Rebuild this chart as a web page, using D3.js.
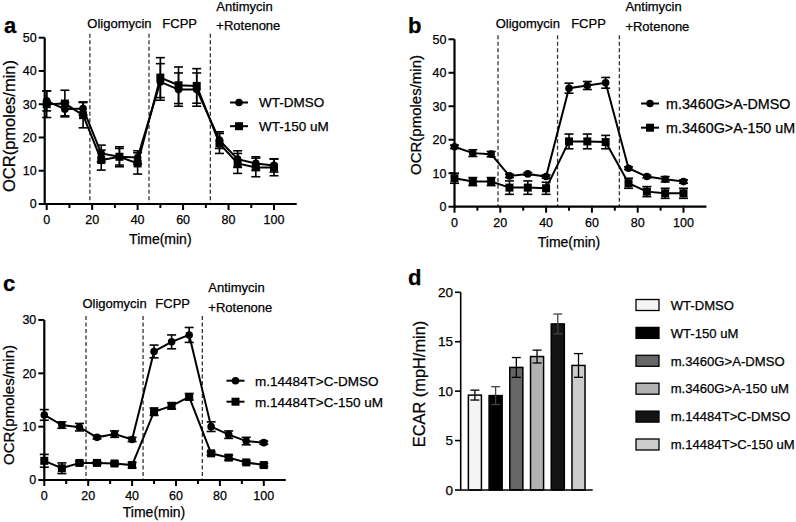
<!DOCTYPE html>
<html><head><meta charset="utf-8">
<script src="https://cdn.jsdelivr.net/npm/d3@7"></script>
<style>
body{margin:0;background:#fff}
svg{display:block}
text{font-family:"Liberation Sans",Arial,Helvetica,sans-serif;fill:#000;stroke:#000;stroke-width:0.25px}
</style>
</head><body>
<svg id="chart" width="796" height="522"></svg>
<script>
// ---------- DATA ----------
const times = [0, 8, 16, 24, 32, 40, 50, 58, 66, 76, 84, 92, 100];
const injectionTimes = [19, 45, 72];
const xTicks = [0, 20, 40, 60, 80, 100];
const xMinorTicks = [10, 30, 50, 70, 90];

const wtDmso     = [31, 28.5, 28.7, 15.2, 14.2, 14.0, 36.7, 34.4, 34.4, 19.2, 13.5, 12.2, 11.6];
const wtDmsoErr  = [3, 2, 2, 2.5, 2.5, 2, 5.5, 5, 5, 2.5, 2.5, 2, 2];
const wt150      = [30, 30.2, 26.7, 13.2, 14.2, 12.2, 38, 35.7, 35.5, 18.2, 12.2, 11, 11];
const wt150Err   = [4, 4, 3.8, 3, 3, 3.2, 6, 5.5, 5.2, 3, 3, 2.8, 2.5];

const m3460Dmso    = [17.9, 16, 15.7, 9.2, 9.8, 9.0, 35.4, 36.2, 37, 11.5, 9.0, 8.2, 7.5];
const m3460DmsoErr = [0.5, 1, 0.8, 0.5, 0.4, 0.5, 1.5, 1.2, 1.6, 0.4, 0.4, 0.8, 0.5];
const m3460_150    = [8.5, 7.5, 7.5, 5.7, 5.7, 5.5, 19.5, 19.5, 19.3, 7.0, 4.5, 4.0, 4.0];
const m3460_150Err = [1.5, 1.2, 1.2, 2, 2, 1.8, 2.2, 2.2, 2, 1.5, 1.5, 1.5, 1.5];

const m14484Dmso    = [12.2, 10.3, 9.9, 8.0, 8.6, 7.6, 24.1, 25.9, 27.2, 10.0, 8.5, 7.3, 7.0];
const m14484DmsoErr = [1, 0.6, 0.7, 0.3, 0.6, 0.4, 1.2, 1.3, 1.4, 0.9, 0.7, 0.7, 0.3];
const m14484_150    = [3.6, 2.2, 3.2, 3.2, 3.1, 2.8, 12.8, 13.9, 15.6, 5.0, 4.2, 3.3, 2.8];
const m14484_150Err = [1.2, 1, 0.3, 0.3, 0.3, 0.5, 0.7, 0.6, 0.6, 0.3, 0.5, 0.3, 0.3];

const ecarGroups = ["WT-DMSO", "WT-150 uM", "m.3460G>A-DMSO", "m.3460G>A-150 uM", "m.14484T>C-DMSO", "m.14484T>C-150 uM"];
const ecarValues = [9.6, 9.55, 12.4, 13.5, 16.8, 12.6];
const ecarErr    = [0.5, 0.9, 1.0, 0.65, 1.0, 1.2];
const ecarColors = ["#f4f4f4", "#000000", "#666666", "#b2b2b2", "#141414", "#cdcdcd"];
const ecarTicks  = [0, 5, 10, 15, 20];

// ---------- DRAW ----------
const svg = d3.select("#chart");

function ocrPanel(o) {
  const g = svg.append("g");
  const x = d3.scaleLinear().domain([0, 110]).range(o.xr);
  const y = d3.scaleLinear().domain([0, o.yMax]).range(o.yr);
  const yTop = o.yr[1], yBot = o.yr[0];
  const ax0 = x(0) - o.yAxisOff;

  // injection dashed lines
  injectionTimes.forEach(t => {
    g.append("line").attr("x1", x(t)).attr("x2", x(t))
      .attr("y1", yTop - 4).attr("y2", yBot)
      .attr("stroke", "#333").attr("stroke-width", 1.3).attr("stroke-dasharray", "4,2.5");
  });
  const lx = injectionTimes.map(x);
  g.append("text").attr("x", (lx[0] + lx[1]) / 2).attr("y", yTop + o.oligoDy)
    .attr("text-anchor", "middle").attr("font-size", 13).text("Oligomycin");
  g.append("text").attr("x", (lx[1] + lx[2]) / 2).attr("y", yTop + o.oligoDy)
    .attr("text-anchor", "middle").attr("font-size", 13).text("FCPP");
  g.append("text").attr("x", lx[2] + 6).attr("y", Math.max(yTop - 28.5, 11))
    .attr("font-size", 13).text("Antimycin");
  g.append("text").attr("x", lx[2] + 6).attr("y", yTop - 8)
    .attr("font-size", 13).text("+Rotenone");

  // axes
  const xAxis = g.append("g").attr("transform", `translate(0,${yBot})`);
  xAxis.append("line").attr("x1", ax0 - 1).attr("x2", x(110)).attr("y1", 0).attr("y2", 0)
    .attr("stroke", "#000").attr("stroke-width", 2.2);
  xTicks.forEach(t => {
    xAxis.append("line").attr("x1", x(t)).attr("x2", x(t)).attr("y1", -1).attr("y2", 6)
      .attr("stroke", "#000").attr("stroke-width", 2);
    xAxis.append("text").attr("x", x(t)).attr("y", 20).attr("text-anchor", "middle")
      .attr("font-size", 12.5).text(t);
  });
  xMinorTicks.forEach(t => {
    xAxis.append("line").attr("x1", x(t)).attr("x2", x(t)).attr("y1", 0).attr("y2", 4)
      .attr("stroke", "#000").attr("stroke-width", 2);
  });
  g.append("text").attr("x", x(50)).attr("y", yBot + o.timeDy).attr("text-anchor", "middle")
    .attr("font-size", 14).text("Time(min)");

  const yAxis = g.append("g");
  yAxis.append("line").attr("x1", ax0).attr("x2", ax0).attr("y1", yTop).attr("y2", yBot + 1)
    .attr("stroke", "#000").attr("stroke-width", 2.2);
  d3.range(0, o.yMax + 0.001, o.yStep).forEach(v => {
    yAxis.append("line").attr("x1", ax0 - 6).attr("x2", ax0).attr("y1", y(v)).attr("y2", y(v))
      .attr("stroke", "#000").attr("stroke-width", 2);
    yAxis.append("text").attr("x", ax0 - 8).attr("y", y(v)).attr("dy", "0.35em")
      .attr("text-anchor", "end").attr("font-size", 12.5).text(v);
  });
  g.append("text").attr("transform", `translate(${o.yLabelX},${o.yLabelY}) rotate(-90)`)
    .attr("text-anchor", "middle").attr("font-size", o.yLabelSize).text("OCR(pmoles/min)");

  // letter
  g.append("text").attr("x", o.letter[0]).attr("y", o.letter[1]).attr("font-size", 22)
    .attr("font-weight", "bold").text(o.letterText);

  // series
  o.series.forEach(s => {
    const pts = times.map((t, i) => ({ t, v: s.vals[i], e: s.err[i] }));
    const eb = g.append("g").attr("stroke", "#000").attr("stroke-width", 1.6);
    pts.forEach(p => {
      eb.append("line").attr("x1", x(p.t)).attr("x2", x(p.t)).attr("y1", y(p.v - p.e)).attr("y2", y(p.v + p.e));
      [p.v - p.e, p.v + p.e].forEach(v => {
        eb.append("line").attr("x1", x(p.t) - 4.5).attr("x2", x(p.t) + 4.5).attr("y1", y(v)).attr("y2", y(v));
      });
    });
    g.append("path").datum(pts)
      .attr("d", d3.line().x(p => x(p.t)).y(p => y(p.v)))
      .attr("fill", "none").attr("stroke", "#000").attr("stroke-width", 2);
    pts.forEach(p => drawMarker(g, s.shape, x(p.t), y(p.v)));
  });

  // legend
  o.series.forEach((s, i) => {
    const ly = o.legend[1] + i * o.legendGap;
    g.append("line").attr("x1", o.legend[0]).attr("x2", o.legend[0] + 18)
      .attr("y1", ly).attr("y2", ly).attr("stroke", "#000").attr("stroke-width", 2);
    drawMarker(g, s.shape, o.legend[0] + 9, ly);
    g.append("text").attr("x", o.legend[0] + o.legendTextDx).attr("y", ly).attr("dy", "0.36em")
      .attr("font-size", o.legendSize).text(s.name);
  });
}

function drawMarker(g, shape, cx, cy) {
  if (shape === "circle") {
    g.append("circle").attr("cx", cx).attr("cy", cy).attr("r", 3.8).attr("fill", "#000");
  } else {
    g.append("rect").attr("x", cx - 4).attr("y", cy - 4).attr("width", 8).attr("height", 8).attr("fill", "#000");
  }
}

ocrPanel({
  xr: [46.7, 46.7 + 2.273 * 110], yr: [204, 37.7], yMax: 50, yStep: 10, yAxisOff: 2,
  oligoDy: -10, timeDy: 40, yLabelX: 14.5, yLabelY: 126, yLabelSize: 16.5, letter: [4, 33], letterText: "a",
  legend: [230, 102.5], legendGap: 23.7, legendTextDx: 29, legendSize: 13.5,
  series: [
    { name: "WT-DMSO", vals: wtDmso, err: wtDmsoErr, shape: "circle" },
    { name: "WT-150 uM", vals: wt150, err: wt150Err, shape: "square" }
  ]
});
ocrPanel({
  xr: [454.5, 454.5 + 2.29 * 110], yr: [206.7, 39.3], yMax: 50, yStep: 10, yAxisOff: 0,
  oligoDy: -11, timeDy: 40, yLabelX: 421, yLabelY: 115, yLabelSize: 15, letter: [408, 33], letterText: "b",
  legend: [641, 103.5], legendGap: 24.2, legendTextDx: 25, legendSize: 14.3,
  series: [
    { name: "m.3460G>A-DMSO", vals: m3460Dmso, err: m3460DmsoErr, shape: "circle" },
    { name: "m.3460G>A-150 uM", vals: m3460_150, err: m3460_150Err, shape: "square" }
  ]
});
ocrPanel({
  xr: [44.3, 44.3 + 2.195 * 110], yr: [480, 320], yMax: 30, yStep: 10, yAxisOff: 0,
  oligoDy: -12, timeDy: 37, yLabelX: 14, yLabelY: 405, yLabelSize: 15, letter: [3, 291], letterText: "c",
  legend: [226.5, 380.7], legendGap: 21, legendTextDx: 28.5, legendSize: 13.5,
  series: [
    { name: "m.14484T>C-DMSO", vals: m14484Dmso, err: m14484DmsoErr, shape: "circle" },
    { name: "m.14484T>C-150 uM", vals: m14484_150, err: m14484_150Err, shape: "square" }
  ]
});

// ---------- Panel d ----------
(function () {
  const g = svg.append("g");
  const x = d3.scaleBand().domain(ecarGroups).range([460.7, 592.7]).padding(0.37);
  const y = d3.scaleLinear().domain([0, 20]).range([490, 292.3]);
  g.selectAll("rect.bar").data(ecarGroups).enter().append("rect")
    .attr("x", d => x(d)).attr("width", x.bandwidth())
    .attr("y", (d, i) => y(ecarValues[i])).attr("height", (d, i) => y(0) - y(ecarValues[i]))
    .attr("fill", (d, i) => ecarColors[i]).attr("stroke", "#000").attr("stroke-width", 1.5);
  ecarGroups.forEach((d, i) => {
    const cx = x(d) + x.bandwidth() / 2;
    const lo = y(ecarValues[i] - ecarErr[i]), hi = y(ecarValues[i] + ecarErr[i]);
    const col = (i === 1 || i === 4) ? "#444" : "#000";
    g.append("line").attr("x1", cx).attr("x2", cx).attr("y1", lo).attr("y2", hi).attr("stroke", col).attr("stroke-width", 1.3);
    [lo, hi].forEach(v => g.append("line").attr("x1", cx - 4.5).attr("x2", cx + 4.5).attr("y1", v).attr("y2", v)
      .attr("stroke", col).attr("stroke-width", 1.3));
  });
  // axes
  g.append("line").attr("x1", 460.7).attr("x2", 592.7).attr("y1", 490).attr("y2", 490).attr("stroke", "#000").attr("stroke-width", 1.6);
  g.append("line").attr("x1", 460.7).attr("x2", 460.7).attr("y1", 292.3).attr("y2", 490.8).attr("stroke", "#000").attr("stroke-width", 1.6);
  ecarTicks.forEach(v => {
    g.append("line").attr("x1", 455).attr("x2", 460.7).attr("y1", y(v)).attr("y2", y(v)).attr("stroke", "#000").attr("stroke-width", 1.6);
    g.append("text").attr("x", 453).attr("y", y(v)).attr("dy", "0.35em").attr("text-anchor", "end")
      .attr("font-size", 13.5).text(v);
  });
  g.append("text").attr("transform", "translate(425,384) rotate(-90)").attr("text-anchor", "middle")
    .attr("font-size", 16.4).text("ECAR (mpH/min)");
  g.append("text").attr("x", 408).attr("y", 285).attr("font-size", 22).attr("font-weight", "bold").text("d");
  // legend
  ecarGroups.forEach((d, i) => {
    const cy = 305 + i * 27.9;
    g.append("rect").attr("x", 636).attr("y", cy - 5.5).attr("width", 23).attr("height", 11)
      .attr("fill", ecarColors[i]).attr("stroke", "#000").attr("stroke-width", 1.3);
    g.append("text").attr("x", 670.7).attr("y", cy).attr("dy", "0.36em").attr("font-size", 13.1).text(d);
  });
})();
</script>
</body></html>
